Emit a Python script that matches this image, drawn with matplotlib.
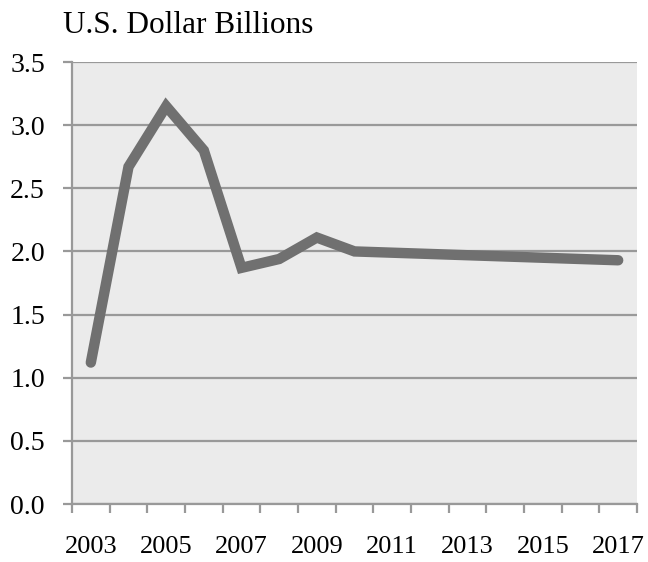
import numpy as np
import matplotlib
matplotlib.use("Agg")
import matplotlib.pyplot as plt

years = ["2003", "2004", "2005", "2006", "2007", "2008", "2009", "2010",
         "2011", "2012", "2013", "2014", "2015", "2016", "2017"]
values = [1.12, 2.67, 3.15, 2.80, 1.87, 1.94, 2.11, 2.00,
          1.99, 1.98, 1.97, 1.96, 1.95, 1.94, 1.93]
y_ticks = [0.0, 0.5, 1.0, 1.5, 2.0, 2.5, 3.0, 3.5]

plt.rcParams["font.family"] = ["Liberation Serif", "DejaVu Serif"]

fig = plt.figure(figsize=(6.48, 5.62), dpi=100)
ax = fig.add_axes([72 / 648, 1 - 504 / 562, (637 - 72) / 648, (504 - 62) / 562])

x = np.arange(len(years))
ax.set_facecolor("#ebebeb")
ax.set_xlim(-0.5, len(years) - 0.5)
ax.set_ylim(0, 3.5)

# gridlines
ax.set_yticks(y_ticks)
ax.set_yticklabels([f"{v:.1f}" for v in y_ticks])
ax.yaxis.grid(True, color="#999999", linewidth=1.6)
ax.set_axisbelow(True)

ax.plot(x, values, color="#707070", linewidth=7.5, solid_capstyle="round",
        solid_joinstyle="miter", zorder=3)

# category boundaries as ticks, labels on every other category
ax.set_xticks(np.arange(-0.5, len(years), 1.0))
ax.set_xticklabels([])
ax.set_xticks(x[::2], minor=True)
ax.set_xticklabels(years[::2], minor=True)
ax.tick_params(axis="x", which="minor", length=0, pad=23, labelsize=19)
ax.tick_params(axis="x", which="major", length=6.5, width=1.6, color="#999999")
ax.tick_params(axis="y", length=6.5, width=1.6, color="#999999", pad=13, labelsize=20)

for s in ["top", "right"]:
    ax.spines[s].set_visible(False)
for s in ["left", "bottom"]:
    ax.spines[s].set_color("#999999")
    ax.spines[s].set_linewidth(1.6)

fig.text(63 / 648, 1 - 33 / 562, "U.S. Dollar Billions", fontsize=22.5,
         ha="left", va="baseline")

fig.savefig("out.png", dpi=100, facecolor="white")
